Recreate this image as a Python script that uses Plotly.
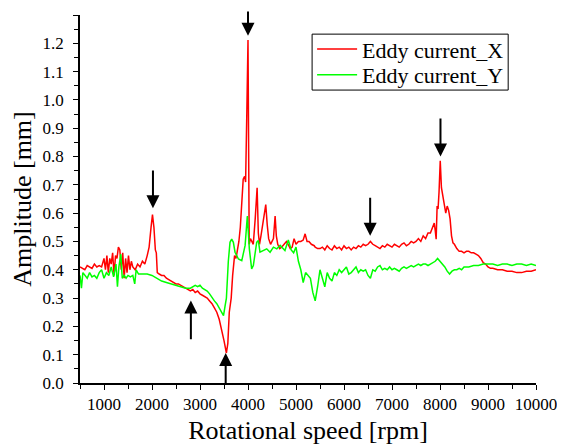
"""Eddy current amplitude vs rotational speed, with arrows marking the peaks."""
import plotly.graph_objects as go

# Eddy current_X (red)
rpm_x = [
    500, 550, 600, 650, 700, 750, 800, 850, 900, 950,
    1000, 1030, 1060, 1090, 1120, 1150, 1180, 1210, 1240, 1270,
    1300, 1330, 1360, 1390, 1420, 1450, 1480, 1510, 1540, 1570,
    1600, 1650, 1700, 1750, 1800, 1850, 1900, 1940, 1980, 2010,
    2040, 2070, 2090, 2110, 2150, 2200, 2250, 2300, 2350, 2400,
    2450, 2500, 2550, 2600, 2650, 2700, 2750, 2800, 2850, 2900,
    2950, 3000, 3050, 3100, 3150, 3200, 3250, 3300, 3350, 3400,
    3450, 3500, 3550, 3580, 3610, 3650, 3680, 3700, 3720, 3750,
    3780, 3810, 3840, 3870, 3900, 3930, 3950, 3975, 4000, 4025,
    4050, 4080, 4110, 4150, 4190, 4215, 4240, 4270, 4320, 4370,
    4400, 4430, 4470, 4500, 4530, 4565, 4590, 4620, 4660, 4700,
    4750, 4800, 4850, 4880, 4920, 4960, 5000, 5050, 5100, 5150,
    5190, 5230, 5270, 5320, 5380, 5400, 5450, 5500, 5550, 5600,
    5650, 5700, 5750, 5800, 5850, 5900, 5950, 6000, 6050, 6100,
    6150, 6200, 6250, 6300, 6350, 6400, 6450, 6500, 6550, 6600,
    6650, 6700, 6750, 6800, 6850, 6900, 6950, 7000, 7050, 7100,
    7150, 7200, 7250, 7300, 7350, 7400, 7450, 7500, 7550, 7600,
    7650, 7700, 7750, 7800, 7850, 7880, 7900, 7920, 7940, 7960,
    7980, 8005, 8030, 8060, 8090, 8120, 8150, 8180, 8210, 8240,
    8270, 8300, 8350, 8400, 8450, 8500, 8550, 8600, 8650, 8700,
    8750, 8800, 8850, 8900, 8950, 9000, 9050, 9100, 9200, 9300,
    9400, 9500, 9600, 9700, 9800, 9900, 10000,
]
amp_x = [
    0.41, 0.405, 0.40, 0.415, 0.41, 0.405, 0.42, 0.41, 0.415, 0.41,
    0.44, 0.40, 0.45, 0.39, 0.44, 0.42, 0.46, 0.38, 0.45, 0.44,
    0.48, 0.47, 0.40, 0.46, 0.37, 0.44, 0.39, 0.45, 0.40, 0.43,
    0.41, 0.40, 0.42, 0.41, 0.43, 0.42, 0.45, 0.48, 0.55, 0.595,
    0.55, 0.47, 0.46, 0.39, 0.385, 0.38, 0.38, 0.37, 0.365, 0.36,
    0.355, 0.35, 0.35, 0.345, 0.34, 0.335, 0.33, 0.325, 0.33, 0.32,
    0.325, 0.315, 0.31, 0.305, 0.30, 0.29, 0.28, 0.265, 0.25, 0.225,
    0.19, 0.15, 0.106, 0.14, 0.25, 0.30, 0.38, 0.43, 0.45, 0.44,
    0.47, 0.50, 0.55, 0.65, 0.72, 0.73, 0.71, 0.95, 1.212, 0.49,
    0.51, 0.50, 0.49, 0.58, 0.69, 0.53, 0.49, 0.52, 0.57, 0.63,
    0.56, 0.51, 0.49, 0.50, 0.51, 0.59, 0.52, 0.49, 0.475, 0.48,
    0.49, 0.50, 0.485, 0.475, 0.48, 0.51, 0.49, 0.50, 0.50, 0.505,
    0.527, 0.50, 0.50, 0.49, 0.485, 0.48, 0.475, 0.475, 0.48, 0.47,
    0.485, 0.475, 0.47, 0.485, 0.475, 0.48, 0.47, 0.485, 0.475, 0.48,
    0.47, 0.48, 0.475, 0.485, 0.48, 0.49, 0.485, 0.49, 0.50, 0.49,
    0.485, 0.48, 0.475, 0.485, 0.48, 0.49, 0.485, 0.48, 0.49, 0.485,
    0.48, 0.49, 0.495, 0.485, 0.49, 0.50, 0.495, 0.50, 0.51, 0.50,
    0.52, 0.51, 0.53, 0.53, 0.55, 0.565, 0.54, 0.508, 0.625, 0.615,
    0.675, 0.785, 0.69, 0.66, 0.62, 0.60, 0.625, 0.61, 0.58, 0.52,
    0.495, 0.49, 0.475, 0.465, 0.465, 0.46, 0.465, 0.465, 0.46, 0.46,
    0.455, 0.45, 0.44, 0.425, 0.42, 0.41, 0.405, 0.405, 0.40, 0.40,
    0.395, 0.395, 0.39, 0.39, 0.395, 0.395, 0.40,
]

# Eddy current_Y (green)
rpm_y = [
    500, 530, 560, 600, 650, 700, 750, 800, 850, 900,
    950, 1000, 1050, 1100, 1150, 1200, 1250, 1280, 1310, 1350,
    1380, 1420, 1460, 1500, 1550, 1600, 1640, 1670, 1720, 1800,
    1900, 2000, 2100, 2200, 2300, 2400, 2500, 2600, 2700, 2800,
    2850, 2900, 2950, 3000, 3050, 3100, 3150, 3200, 3250, 3300,
    3350, 3400, 3450, 3490, 3520, 3550, 3590, 3625, 3660, 3695,
    3730, 3800, 3870, 3940, 3986, 4028, 4076, 4111, 4181, 4215,
    4250, 4320, 4390, 4460, 4530, 4600, 4670, 4770, 4840, 4900,
    4950, 5000, 5050, 5100, 5150, 5200, 5250, 5300, 5350, 5400,
    5450, 5500, 5550, 5600, 5650, 5700, 5750, 5800, 5850, 5900,
    5950, 6000, 6050, 6100, 6150, 6200, 6250, 6300, 6350, 6400,
    6450, 6500, 6550, 6600, 6650, 6700, 6750, 6800, 6850, 6900,
    6950, 7000, 7050, 7100, 7150, 7200, 7250, 7300, 7350, 7400,
    7450, 7500, 7550, 7600, 7650, 7700, 7750, 7800, 7850, 7900,
    7950, 8000, 8050, 8100, 8150, 8200, 8250, 8300, 8350, 8400,
    8450, 8500, 8600, 8700, 8800, 8900, 9000, 9100, 9200, 9300,
    9400, 9500, 9600, 9700, 9800, 9900, 10000,
]
amp_y = [
    0.38, 0.335, 0.39, 0.38, 0.37, 0.39, 0.375, 0.38, 0.37, 0.39,
    0.40, 0.37, 0.39, 0.38, 0.41, 0.375, 0.42, 0.34, 0.41, 0.455,
    0.37, 0.38, 0.37, 0.38, 0.375, 0.38, 0.35, 0.40, 0.385, 0.385,
    0.385, 0.38, 0.37, 0.36, 0.355, 0.35, 0.345, 0.34, 0.335, 0.335,
    0.34, 0.345, 0.34, 0.345, 0.335, 0.33, 0.325, 0.315, 0.30, 0.29,
    0.28, 0.265, 0.25, 0.238, 0.27, 0.30, 0.43, 0.497, 0.508, 0.497,
    0.462, 0.438, 0.432, 0.486, 0.59, 0.474, 0.403, 0.415, 0.497, 0.503,
    0.462, 0.468, 0.474, 0.462, 0.48, 0.474, 0.486, 0.468, 0.505, 0.47,
    0.46, 0.48, 0.43, 0.40, 0.355, 0.39, 0.38, 0.37, 0.32, 0.29,
    0.34, 0.40, 0.37, 0.34, 0.39, 0.37, 0.36, 0.39, 0.38, 0.40,
    0.39, 0.40, 0.41, 0.385, 0.39, 0.40, 0.41, 0.39, 0.40, 0.395,
    0.40, 0.38, 0.37, 0.40, 0.395, 0.41, 0.415, 0.40, 0.405, 0.40,
    0.41, 0.40, 0.405, 0.40, 0.395, 0.405, 0.41, 0.405, 0.41, 0.415,
    0.41, 0.415, 0.42, 0.415, 0.42, 0.42, 0.415, 0.42, 0.425, 0.43,
    0.44, 0.43, 0.42, 0.41, 0.395, 0.385, 0.395, 0.40, 0.40, 0.405,
    0.40, 0.41, 0.41, 0.415, 0.415, 0.42, 0.42, 0.42, 0.415, 0.42,
    0.42, 0.415, 0.42, 0.42, 0.415, 0.42, 0.415,
]

# arrows: (rpm, tip amplitude, tail amplitude)
arrow_rpm = [2020, 2810, 3535, 4000, 6545, 8010]
arrow_tip = [0.617, 0.291, 0.106, 1.227, 0.52, 0.80]
arrow_tail = [0.756, 0.149, -0.01, 1.318, 0.66, 0.94]

FONT = "Times New Roman, Liberation Serif, serif"

fig = go.Figure()
fig.add_trace(go.Scatter(x=rpm_x, y=amp_x, mode="lines", name="Eddy current_X",
                         line=dict(color="#ff0000", width=1.5), legend="legend"))
fig.add_trace(go.Scatter(x=rpm_y, y=amp_y, mode="lines", name="Eddy current_Y",
                         line=dict(color="#00ff00", width=1.5), legend="legend2"))

for r, tip, tail in zip(arrow_rpm, arrow_tip, arrow_tail):
    fig.add_annotation(x=r, y=tip, ax=r, ay=tail, xref="x", yref="y",
                       axref="x", ayref="y", text="", showarrow=True,
                       arrowhead=2, arrowsize=1.3, arrowwidth=2,
                       arrowcolor="black", standoff=0, startstandoff=0)

# legend frame (one legend per row so the row spacing can be set)
fig.add_shape(type="rect", xref="paper", yref="paper",
              x0=0.509, x1=0.939, y0=0.796, y1=0.948,
              line=dict(color="black", width=1), fillcolor="white", layer="above")

leg_common = dict(x=0.509, xanchor="left", yanchor="middle",
                  bgcolor="rgba(0,0,0,0)", borderwidth=0, itemwidth=40,
                  font=dict(family=FONT, size=22))

axis_common = dict(showline=True, linecolor="black", linewidth=1.5,
                   showgrid=False, zeroline=False, ticklen=5, tickwidth=1.2,
                   tickcolor="black", automargin=False)

# page body has an 8 px margin, so the figure is 8 px smaller than the window
fig.update_layout(
    width=557, height=437,
    margin=dict(l=72, r=29, t=7, b=62, autoexpand=False),
    paper_bgcolor="white", plot_bgcolor="white",
    font=dict(family=FONT, color="black", size=17),
    showlegend=True,
    legend=dict(y=0.907, **leg_common),
    legend2=dict(y=0.837, **leg_common),
    xaxis=dict(range=[500, 10000], tick0=1000, dtick=1000, ticks="outside",
               tickformat="d",
               minor=dict(tick0=500, dtick=500, ticks="outside", ticklen=4,
                          tickcolor="black", tickwidth=1.2),
               title=dict(text="Rotational speed [rpm]",
                          font=dict(family=FONT, size=26)),
               tickfont=dict(family=FONT, size=17), **axis_common),
    yaxis=dict(range=[0, 1.3], tick0=0, dtick=0.1, tickformat=".1f",
               ticks="outside", ticklabelstandoff=6,
               minor=dict(tick0=0, dtick=0.05, ticks="outside", ticklen=4,
                          tickcolor="black", tickwidth=1.2),
               title=dict(text="Amplitude [mm]",
                          font=dict(family=FONT, size=26)),
               tickfont=dict(family=FONT, size=17), **axis_common),
    xaxis2=dict(range=[500, 10000], overlaying="x", side="top",
                tick0=500, dtick=500, ticks="inside", showticklabels=False,
                **axis_common),
    yaxis2=dict(range=[0, 1.3], overlaying="y", side="right",
                tick0=0, dtick=0.05, ticks="inside", showticklabels=False,
                **axis_common),
)

fig.write_html("out.html")
